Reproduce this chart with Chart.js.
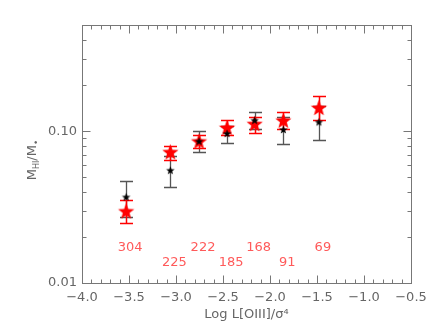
<!DOCTYPE html>
<html>
<head>
<meta charset="utf-8">
<script src="https://cdn.jsdelivr.net/npm/chart.js@4/dist/chart.umd.min.js"></script>
<style>
html,body{margin:0;padding:0;background:#fff;}
canvas{display:block;}
</style>
</head>
<body>
<canvas id="c" width="436" height="335"></canvas>
<script>
// ---- data ----
const binX = [-3.53, -3.06, -2.755, -2.457, -2.163, -1.858, -1.48];
const blackY  = [0.0369, 0.0553, 0.0859, 0.0966, 0.118, 0.1026, 0.115];
const blackHi = [0.0473, 0.0684, 0.100, 0.108, 0.134, 0.124, 0.146];
const blackLo = [0.0270, 0.0430, 0.073, 0.084, 0.103, 0.0817, 0.0873];
const redY  = [0.0298, 0.0731, 0.086, 0.1057, 0.112, 0.118, 0.143];
const redHi = [0.0351, 0.0797, 0.095, 0.119, 0.123, 0.133, 0.171];
const redLo = [0.0250, 0.0650, 0.077, 0.094, 0.0966, 0.1026, 0.118];
const counts = ['304', '225', '222', '185', '168', '91', '69'];
const countRowY = [0.0170, 0.0137];
const xTickLabels = ['−4.0','−3.5','−3.0','−2.5','−2.0','−1.5','−1.0','−0.5'];
const yMajor = [0.01, 0.1];
const yMajorLabels = ['0.01', '0.10'];
const yMinor = [0.02,0.03,0.04,0.05,0.06,0.07,0.08,0.09,0.2,0.3,0.4,0.5];

const FONT = '"DejaVu Sans", sans-serif';
const TXT = '#666';
const AXIS = '#777';

function makeStar(r, color) {
  const c = document.createElement('canvas');
  const s = Math.ceil(2 * r + 2);
  c.width = s; c.height = s;
  const g = c.getContext('2d');
  g.translate(s / 2, s / 2 + r * 0.1);
  g.beginPath();
  for (let i = 0; i < 10; i++) {
    const rr = i % 2 === 0 ? r : r * 0.42;
    const a = -Math.PI / 2 + i * Math.PI / 5;
    const px = rr * Math.cos(a), py = rr * Math.sin(a);
    if (i === 0) g.moveTo(px, py); else g.lineTo(px, py);
  }
  g.closePath();
  g.fillStyle = color;
  g.fill();
  return c;
}
const blackStar = makeStar(4.5, '#000');
const redStar = makeStar(8.5, '#ff0000');

const errPlugin = {
  id: 'errbars',
  beforeDatasetsDraw(chart) {
    const ctx = chart.ctx, xs = chart.scales.x, ys = chart.scales.y;
    const draw = (lo, hi, color, lw) => {
      ctx.save();
      ctx.strokeStyle = color; ctx.lineWidth = lw;
      for (let i = 0; i < binX.length; i++) {
        const x = Math.round(xs.getPixelForValue(binX[i])) + 0.5;
        const y1 = Math.round(ys.getPixelForValue(lo[i])) + 0.5;
        const y2 = Math.round(ys.getPixelForValue(hi[i])) + 0.5;
        ctx.beginPath();
        ctx.moveTo(x, y1); ctx.lineTo(x, y2);
        ctx.moveTo(x - 6.5, y1); ctx.lineTo(x + 6.5, y1);
        ctx.moveTo(x - 6.5, y2); ctx.lineTo(x + 6.5, y2);
        ctx.stroke();
      }
      ctx.restore();
    };
    draw(blackLo, blackHi, '#555', 1.3);
    draw(redLo, redHi, '#ff0000', 1.5);
  },
  afterDraw(chart) {
    const ctx = chart.ctx, xs = chart.scales.x, ys = chart.scales.y;
    const a = chart.chartArea;
    ctx.save();
    // frame
    ctx.strokeStyle = AXIS; ctx.lineWidth = 1;
    const L = Math.round(a.left) + 0.5, R = Math.round(a.right) + 0.5;
    const T = Math.round(a.top) + 0.5, B = Math.round(a.bottom) + 0.5;
    ctx.strokeRect(L, T, R - L, B - T);
    // x ticks (top and bottom, inward)
    ctx.beginPath();
    for (let k = 0; k <= 35; k++) {
      const v = -4 + k * 0.1;
      const x = Math.round(xs.getPixelForValue(v)) + 0.5;
      const len = (k % 5 === 0) ? 8 : 4;
      ctx.moveTo(x, B); ctx.lineTo(x, B - len);
      ctx.moveTo(x, T); ctx.lineTo(x, T + len);
    }
    // y ticks (left and right, inward)
    yMajor.concat(yMinor).forEach(v => {
      const y = Math.round(ys.getPixelForValue(v)) + 0.5;
      const len = yMajor.includes(v) ? 8 : 4;
      ctx.moveTo(L, y); ctx.lineTo(L + len, y);
      ctx.moveTo(R, y); ctx.lineTo(R - len, y);
    });
    ctx.stroke();

    // count labels
    ctx.fillStyle = '#ff5a5a';
    ctx.font = '13px ' + FONT;
    ctx.textAlign = 'center'; ctx.textBaseline = 'middle';
    counts.forEach((t, i) => {
      const x = xs.getPixelForValue(binX[i]) + 4;
      const y = ys.getPixelForValue(countRowY[i % 2]);
      ctx.fillText(t, x, y);
    });

    // x title
    ctx.fillStyle = TXT;
    ctx.font = '13px ' + FONT;
    ctx.textAlign = 'center'; ctx.textBaseline = 'middle';
    ctx.fillText('Log L[OIII]/σ⁴', (a.left + a.right) / 2, 315);

    // y title with subscripts, rotated
    ctx.translate(33, 160);
    ctx.rotate(-Math.PI / 2);
    ctx.textAlign = 'left'; ctx.textBaseline = 'middle';
    const parts = [
      {t: 'M', f: '13px ', dy: 0},
      {t: 'HI', f: '8px ', dy: 4},
      {t: '/M', f: '13px ', dy: 0},
      {t: '•', f: '9px ', dy: 4}
    ];
    let w = 0;
    parts.forEach(p => { ctx.font = p.f + FONT; p.w = ctx.measureText(p.t).width; w += p.w; });
    let cx = -w / 2;
    parts.forEach(p => { ctx.font = p.f + FONT; ctx.fillText(p.t, cx, p.dy); cx += p.w; });
    ctx.restore();
  }
};

new Chart(document.getElementById('c'), {
  type: 'scatter',
  data: {
    datasets: [
      {
        label: 'black',
        data: binX.map((x, i) => ({x: x, y: blackY[i]})),
        pointStyle: blackStar,
        pointRadius: 5
      },
      {
        label: 'red',
        data: binX.map((x, i) => ({x: x, y: redY[i]})),
        pointStyle: redStar,
        pointRadius: 8
      }
    ]
  },
  plugins: [errPlugin],
  options: {
    responsive: false,
    devicePixelRatio: 1,
    animation: false,
    layout: {padding: {top: 25, right: 25, left: 0, bottom: 0}},
    plugins: {legend: {display: false}, tooltip: {enabled: false}},
    scales: {
      x: {
        type: 'linear', position: 'bottom', min: -4, max: -0.5,
        grid: {display: false, drawTicks: false}, border: {display: false},
        afterBuildTicks: s => { s.ticks = xTickLabels.map((_, i) => ({value: -4 + i * 0.5})); },
        ticks: {
          color: TXT, font: {family: FONT, size: 13}, padding: 7, maxRotation: 0, autoSkip: false,
          callback: (v, i) => xTickLabels[i]
        },
        afterFit: s => { s.height = 52; }
      },
      y: {
        type: 'logarithmic', min: 0.01, max: 0.5,
        grid: {display: false, drawTicks: false}, border: {display: false},
        afterBuildTicks: s => { s.ticks = yMajor.map(v => ({value: v})); },
        ticks: {
          color: TXT, font: {family: FONT, size: 13}, padding: 5, autoSkip: false,
          callback: (v, i) => yMajorLabels[i]
        },
        afterFit: s => { s.width = 82; }
      }
    }
  }
});
</script>
</body>
</html>
